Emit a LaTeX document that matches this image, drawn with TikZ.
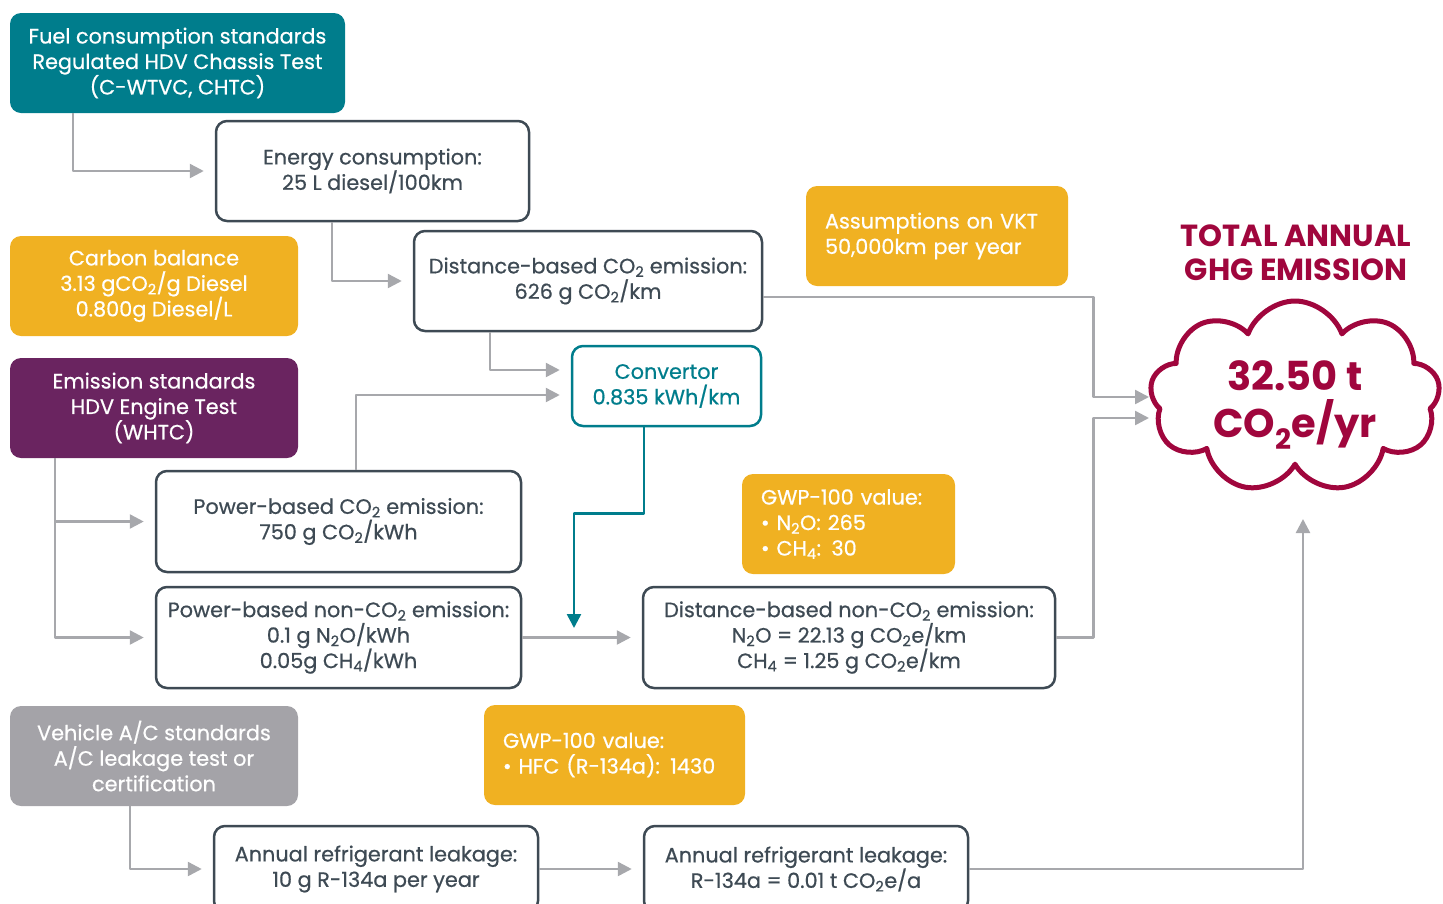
\documentclass[tikz,border=0pt]{standalone}
\usepackage{fontspec}
\setmainfont{Poppins}[UprightFeatures={FakeBold=0.6}]
\usetikzlibrary{arrows.meta,shapes.symbols}
\definecolor{petrol}{HTML}{007D8C}
\definecolor{amber}{HTML}{F0B122}
\definecolor{plum}{HTML}{6A2460}
\definecolor{ash}{HTML}{A4A3A8}
\definecolor{wire}{HTML}{A7A8AC}
\definecolor{slate}{HTML}{3E4A54}
\definecolor{wine}{HTML}{A0063D}
\newcommand{\cotwo}{CO\textsubscript{2}}
\begin{document}
\begin{tikzpicture}[x=1pt, y=-1pt, line join=round,
	font=\fontsize{20.8}{25.5}\selectfont,
	box/.style={draw=slate, line width=2.5pt, fill=white, text=slate, rounded corners=11pt, inner sep=0pt, align=center},
	tag/.style={rounded corners=11pt, inner sep=0pt, align=center, text=white},
	note/.style={tag, fill=amber, align=left, inner xsep=19pt},
	conn/.style={draw=wire, line width=2.5pt, -{Triangle[length=14pt,width=14pt]}, shorten >=11pt},
	tealconn/.style={draw=petrol, line width=2.5pt, -{Triangle[length=14pt,width=14pt]}}]
	\useasboundingbox (0,0) rectangle (1443,903);
	% standards
	\node[tag, fill=petrol, minimum width=335pt, minimum height=100pt] (fuel) at (177.5,63) {Fuel consumption standards\\Regulated HDV Chassis Test\\(C-WTVC, CHTC)};
	\node[tag, fill=amber, minimum width=288pt, minimum height=100pt] (carbon) at (154,286) {Carbon balance\\3.13 g\cotwo/g Diesel\\0.800g Diesel/L};
	\node[tag, fill=plum, minimum width=288pt, minimum height=100pt] (emis) at (154,408) {Emission standards\\HDV Engine Test\\(WHTC)};
	\node[tag, fill=ash, minimum width=288pt, minimum height=100pt] (vac) at (154,756) {Vehicle A/C standards\\A/C leakage test or\\certification};
	% assumptions
	\node[note, text width=224pt, minimum height=100pt] (vkt) at (937,236) {Assumptions on VKT\\50,000km per year};
	\node[note, text width=175pt, minimum height=100pt] (gwpa) at (848.5,524) {GWP-100 value:\\\textbullet\ N\textsubscript{2}O: 265\\\textbullet\ CH\textsubscript{4}: 30};
	\node[note, text width=223pt, minimum height=100pt] (gwpb) at (614.5,755) {GWP-100 value:\\\textbullet\ HFC (R-134a): 1430};
	% results
	\node[box, minimum width=313pt, minimum height=100pt] (energy) at (372.5,171) {Energy consumption:\\25 L diesel/100km};
	\node[box, minimum width=348pt, minimum height=100pt] (dist) at (588,281) {Distance-based \cotwo\ emission:\\626 g \cotwo/km};
	\node[box, draw=petrol, text=petrol, minimum width=189pt, minimum height=80pt] (conv) at (666.5,386) {Convertor\\0.835 kWh/km};
	\node[box, minimum width=365pt, minimum height=101pt] (pco2) at (338.5,521.5) {Power-based \cotwo\ emission:\\750 g \cotwo/kWh};
	\node[box, minimum width=365pt, minimum height=101pt] (pnon) at (338.5,637.5) {Power-based non-\cotwo\ emission:\\0.1 g N\textsubscript{2}O/kWh\\0.05g CH\textsubscript{4}/kWh};
	\node[box, minimum width=412pt, minimum height=101pt] (dnon) at (849,637.5) {Distance-based non-\cotwo\ emission:\\N\textsubscript{2}O = 22.13 g \cotwo e/km\\CH\textsubscript{4} = 1.25 g \cotwo e/km};
	\node[box, minimum width=324pt, minimum height=86pt] (ann1) at (376,869) {Annual refrigerant leakage:\\10 g R-134a per year};
	\node[box, minimum width=324pt, minimum height=86pt] (ann2) at (806,869) {Annual refrigerant leakage:\\R-134a = 0.01 t \cotwo e/a};
	% total
	\node[text=wine, align=center, font=\bfseries\fontsize{30.5}{34}\selectfont] (title) at (1296,253) {TOTAL ANNUAL\\GHG EMISSION};
	\node[cloud, cloud puffs=9, cloud puff arc=140, cloud ignores aspect, draw=wine, line width=5pt, fill=white, minimum width=290pt, minimum height=192pt] (total) at (1295,397) {};
	\node[text=wine, align=center, font=\bfseries\fontsize{40}{47}\selectfont] (totaltxt) at ([yshift=-8pt]total.center) {32.50 t\\\cotwo e/yr};
	\coordinate (inA) at (1149,397);
	\coordinate (inB) at (1149,418);
	\coordinate (inC) at (1303,508);
	\coordinate (merge) at (574,628);
	% connectors
	\draw[conn] ([xshift=63pt]fuel.south west) |- (energy.west);
	\draw[conn] ([xshift=117pt]energy.south west) |- (dist.west);
	\draw[conn] ([xshift=77pt]dist.south west) |- ([yshift=16pt]conv.west);
	\draw[conn] ([xshift=201pt]pco2.north west) |- ([yshift=-9pt]conv.west);
	\draw[conn] ([xshift=45pt]emis.south west) |- (pco2.west);
	\draw[conn] ([xshift=45pt]emis.south west) |- (pnon.west);
	\draw[tealconn] ([xshift=73pt]conv.south west) -- ++(0,86) -| (merge);
	\draw[conn] (pnon.east) -- (dnon.west);
	\draw[conn, shorten >=0pt] ([yshift=-16pt]dist.east) -- ++(330,0) |- (inA);
	\draw[conn, shorten >=0pt] (dnon.east) -- ++(37,0) |- (inB);
	\draw[conn] ([xshift=120pt]vac.south west) |- (ann1.west);
	\draw[conn] (ann1.east) -- (ann2.west);
	\draw[conn] (ann2.east) -| (inC);
\end{tikzpicture}
\end{document}
